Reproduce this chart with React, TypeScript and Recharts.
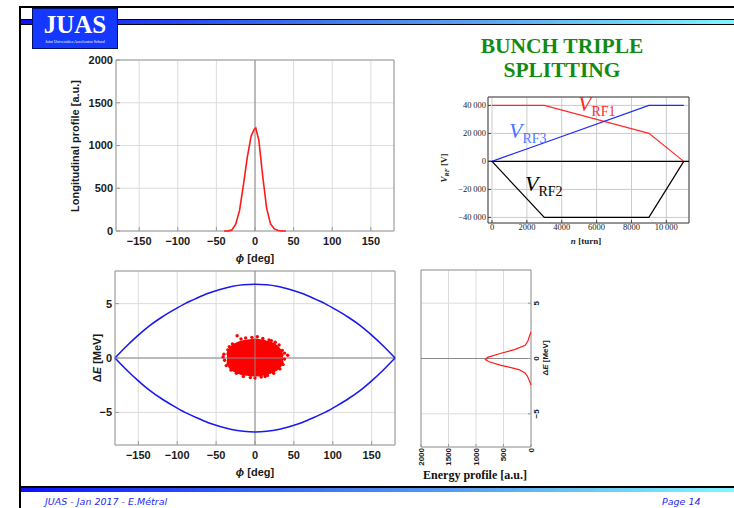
import React from 'react'
import {
  ComposedChart, LineChart, Line, Area, Scatter, XAxis, YAxis, CartesianGrid,
  ReferenceLine, ReferenceArea,
} from 'recharts'

// longitudinal (phase) profile of the bunch
const profPhi = [-40, -35, -30, -25, -20, -15, -10, -5, -1, 1, 5, 10, 15, 20, 25, 30, 35, 40]
const profVal = [0, 2, 12, 80, 240, 540, 860, 1110, 1190, 1205, 1060, 640, 270, 85, 25, 6, 0, 0]

// RF voltage programme
const turns = [0, 3000, 9000, 11000]
const vrf1 = [40000, 40000, 20000, 0]
const vrf2 = [0, -40000, -40000, 0]
const vrf3 = [0, 13333, 40000, 40000]

// separatrix
const sepPhi = [-180, -165, -150, -135, -120, -105, -90, -75, -60, -45, -30, -15, 0, 15, 30, 45, 60, 75, 90, 105, 120, 135, 150, 165, 180]
const sepTop = [0, 1.1, 2.1, 3.0, 3.75, 4.4, 5.0, 5.5, 5.95, 6.3, 6.58, 6.74, 6.78, 6.74, 6.58, 6.3, 5.95, 5.5, 5.0, 4.4, 3.75, 3.0, 2.1, 1.1, 0]
const sepBot = [0, -1.1, -2.1, -3.0, -3.75, -4.4, -5.0, -5.5, -5.95, -6.3, -6.58, -6.74, -6.8, -6.74, -6.58, -6.3, -5.95, -5.5, -5.0, -4.4, -3.75, -3.0, -2.1, -1.1, 0]

// dense core of the particle cloud
const corePhi = [-36, -33, -30, -25, -20, -15, -10, -5, 0, 5, 10, 15, 20, 25, 30, 33, 36]
const coreTop = [0.3, 0.8, 1.05, 1.3, 1.45, 1.55, 1.6, 1.65, 1.7, 1.65, 1.6, 1.5, 1.4, 1.25, 0.95, 0.65, 0.2]
const coreBot = [-0.4, -0.8, -1.05, -1.25, -1.4, -1.5, -1.55, -1.6, -1.6, -1.6, -1.55, -1.45, -1.35, -1.2, -0.95, -0.7, -0.3]

// stray particles at the edge of the cloud
const partPhi = [-23, -12, -4, 3, 10, 18, 26, 31, -29, -35, -40, -39, -41, -37, -31, -24, -15, -6, 0, 8, 16, 24, 32, 36, 38, 42, 35, 38, -33, 21, -18, 13]
const partDE = [2.05, 1.85, 1.9, 1.95, 1.8, 1.65, 1.45, 1.2, 1.3, 0.75, 0.35, -0.2, 0.1, -0.7, -1.1, -1.4, -1.7, -1.8, -1.85, -1.75, -1.6, -1.4, -1.0, -0.6, -0.1, 0.25, 0.7, 0.45, 1.05, 1.6, 1.75, -1.7]

// energy profile
const enDE = [-2.4, -2.0, -1.6, -1.3, -1.0, -0.6, -0.3, -0.1, 0.1, 0.45, 0.8, 1.2, 1.6, 2.0, 2.4]
const enVal = [0, 30, 65, 110, 220, 560, 760, 830, 790, 560, 300, 105, 55, 30, 0]

const phiTicks = [-150, -100, -50, 0, 50, 100, 150]
const profTicks = [0, 500, 1000, 1500, 2000]
const turnTicks = [0, 2000, 4000, 6000, 8000, 10000]
const voltTicks = [-40000, -20000, 0, 20000, 40000]
const dETicks = [-5, 0, 5]

const minus = (v: number) => (v < 0 ? '\u2212' + Math.abs(v) : String(v))
const grouped = (v: number) => {
  const s = String(Math.abs(v))
  const g = s.length > 4 ? s.slice(0, s.length - 3) + '\u2009' + s.slice(-3) : s
  return (v < 0 ? '\u2212' : '') + g
}

const SANS = '"Liberation Sans", Arial, sans-serif'
const SERIF = '"Liberation Serif", "Times New Roman", serif'
const tickSans = { fontSize: 11, fontWeight: 700, fill: '#1a1a1a', fontFamily: SANS }
const tickSerif = { fontSize: 8.5, fill: '#222', fontFamily: SERIF }
const frameTick = { stroke: '#9a9a9a' }

const profData = profPhi.map((p, i) => ({ phi: p, val: profVal[i] }))
const rfData = turns.map((n, i) => ({ n, rf1: vrf1[i], rf2: vrf2[i], rf3: vrf3[i] }))
const partData = partPhi.map((p, i) => ({ phi: p, dE: partDE[i] }))
const enData = enDE.map((d, i) => ({ dE: d, val: enVal[i] }))

// phase space table: separatrix + cloud core on one phi grid
const phaseData = (() => {
  const rows: Record<number, any> = {}
  sepPhi.forEach((p, i) => { rows[p] = { ...(rows[p] || { phi: p }), top: sepTop[i], bot: sepBot[i] } })
  corePhi.forEach((p, i) => { rows[p] = { ...(rows[p] || { phi: p }), core: [coreBot[i], coreTop[i]] } })
  return Object.values(rows).sort((a: any, b: any) => a.phi - b.phi)
})()

const RotXTick = ({ x, y, payload }: any) => (
  <text x={x} y={y} transform={`rotate(-90 ${x} ${y})`} textAnchor="end" dy="0.35em"
    style={{ fontSize: 8, fontWeight: 700, fill: '#1a1a1a', fontFamily: SANS }}>{payload.value}</text>
)
const RotYTick = ({ x, y, payload }: any) => (
  <text x={x} y={y} transform={`rotate(-90 ${x} ${y})`} textAnchor="middle" dy="0.75em"
    style={{ fontSize: 8, fontWeight: 700, fill: '#1a1a1a', fontFamily: SANS }}>{minus(payload.value)}</text>
)

function Txt({ x, y, rot, style, children }: any) {
  return (
    <div style={{
      position: 'absolute', left: x, top: y, whiteSpace: 'nowrap', lineHeight: 1,
      transform: `translate(-50%, -50%)${rot ? ' rotate(-90deg)' : ''}`, ...style,
    }}>{children}</div>
  )
}

function VLabel({ x, y, sub, color }: any) {
  return (
    <div style={{ position: 'absolute', left: x, top: y, whiteSpace: 'nowrap', lineHeight: 1, color, fontFamily: SERIF }}>
      <span style={{ fontStyle: 'italic', fontSize: 22 }}>V</span>
      <span style={{ fontSize: 14, position: 'relative', top: 5 }}>{sub}</span>
    </div>
  )
}

const bar = 'linear-gradient(90deg, #0a10ff 0%, #2f5ef5 30%, #5aa6f0 65%, #80f6ff 100%)'

export default function App() {
  return (
    <div style={{ position: 'absolute', left: 0, top: 0, width: 734, height: 508, background: '#fff', overflow: 'hidden', fontFamily: SANS }}>
      {/* slide frame */}
      <div style={{ position: 'absolute', left: 19, top: 6, width: 715, height: 2, background: '#000' }} />
      <div style={{ position: 'absolute', left: 19, top: 6, width: 2, height: 502, background: '#000' }} />
      <div style={{ position: 'absolute', left: 21, top: 19, width: 713, height: 4, borderTop: '1px solid #000', borderBottom: '1px solid #000', background: bar }} />
      <div style={{ position: 'absolute', left: 21, top: 486, width: 713, height: 4, borderTop: '2px solid #000', background: bar }} />

      {/* logo */}
      <div style={{ position: 'absolute', left: 32, top: 8, width: 84, height: 39, background: '#1438ff', border: '1px solid #001060', color: '#fff', textAlign: 'center' }}>
        <div style={{ fontFamily: SERIF, fontWeight: 700, fontSize: 25, lineHeight: '28px', marginTop: 2 }}>JUAS</div>
        <div style={{ fontFamily: SERIF, fontSize: 4, lineHeight: '5px' }}>Joint Universities Accelerator School</div>
      </div>

      {/* title */}
      <div style={{ position: 'absolute', left: 462, top: 35, width: 200, textAlign: 'center', fontFamily: SERIF, fontWeight: 700, fontSize: 21.5, lineHeight: '23.5px', color: '#138a13' }}>
        BUNCH TRIPLE<br />SPLITTING
      </div>

      {/* longitudinal profile */}
      <div style={{ position: 'absolute', left: 40, top: 50 }}>
        <LineChart width={360} height={225} data={profData} margin={{ top: 10, right: 6, bottom: 0, left: 0 }}>
          <CartesianGrid stroke="#dcdcdc" />
          <XAxis dataKey="phi" type="number" domain={[-180, 180]} ticks={phiTicks} tickFormatter={minus}
            axisLine={false} tickLine={frameTick} tickSize={-4} tickMargin={10} height={44} tick={tickSans} interval={0} />
          <YAxis type="number" domain={[0, 2000]} ticks={profTicks} axisLine={false} tickLine={frameTick}
            tickSize={-4} tickMargin={7} width={76} tick={tickSans} interval={0} />
          <ReferenceLine x={0} stroke="#8a8a8a" />
          <ReferenceArea x1={-180} x2={180} y1={0} y2={2000} fill="none" stroke="#9a9a9a" />
          <Line dataKey="val" type="linear" stroke="#ff1a1a" strokeWidth={1.6} dot={false} isAnimationActive={false} />
        </LineChart>
      </div>

      {/* RF voltages */}
      <div style={{ position: 'absolute', left: 420, top: 90 }}>
        <LineChart width={290} height={160} data={rfData} margin={{ top: 7, right: 21, bottom: 0, left: 0 }}>
          <CartesianGrid stroke="#cacaca" />
          <XAxis dataKey="n" type="number" domain={[-230, 11300]} allowDataOverflow ticks={turnTicks} tickFormatter={grouped}
            axisLine={false} tickLine={{ stroke: '#444' }} tickSize={-3} tickMargin={4} height={27} tick={tickSerif} interval={0} />
          <YAxis type="number" domain={[-44000, 46000]} allowDataOverflow ticks={voltTicks} tickFormatter={grouped}
            axisLine={false} tickLine={{ stroke: '#444' }} tickSize={-3} tickMargin={5} width={68} tick={tickSerif} interval={0} />
          <ReferenceArea x1={-230} x2={11300} y1={-44000} y2={46000} fill="none" stroke="#444" />
          <ReferenceLine y={0} stroke="#000" strokeWidth={1.2} />
          <Line dataKey="rf1" type="linear" stroke="#ff2a2a" strokeWidth={1.2} dot={false} isAnimationActive={false} />
          <Line dataKey="rf3" type="linear" stroke="#1e2cf0" strokeWidth={1.2} dot={false} isAnimationActive={false} />
          <Line dataKey="rf2" type="linear" stroke="#000" strokeWidth={1.2} dot={false} isAnimationActive={false} />
        </LineChart>
      </div>

      {/* phase space */}
      <div style={{ position: 'absolute', left: 40, top: 262 }}>
        <ComposedChart width={360} height={225} data={phaseData} margin={{ top: 9, right: 5, bottom: 0, left: 0 }}>
          <CartesianGrid stroke="#dcdcdc" />
          <XAxis dataKey="phi" type="number" domain={[-180, 180]} ticks={phiTicks} tickFormatter={minus}
            axisLine={false} tickLine={frameTick} tickSize={-4} tickMargin={10} height={42} tick={tickSans} interval={0} />
          <YAxis type="number" domain={[-8, 8]} allowDataOverflow ticks={dETicks} tickFormatter={minus}
            axisLine={false} tickLine={frameTick} tickSize={-4} tickMargin={7} width={75} tick={tickSans} interval={0} />
          <ReferenceLine x={0} stroke="#8a8a8a" />
          <ReferenceLine y={0} stroke="#8a8a8a" />
          <ReferenceArea x1={-180} x2={180} y1={-8} y2={8} fill="none" stroke="#9a9a9a" />
          <Area dataKey="core" type="monotone" fill="#ff0000" fillOpacity={1} stroke="#ff0000" strokeWidth={2} isAnimationActive={false} />
          <Scatter data={partData} dataKey="dE" fill="#ff0000" isAnimationActive={false}
            shape={(p: any) => <circle cx={p.cx} cy={p.cy} r={1.7} fill="#ff0000" />} />
          <Line dataKey="top" type="monotone" stroke="#1a1aee" strokeWidth={1.6} dot={false} connectNulls isAnimationActive={false} />
          <Line dataKey="bot" type="monotone" stroke="#1a1aee" strokeWidth={1.6} dot={false} connectNulls isAnimationActive={false} />
        </ComposedChart>
      </div>

      {/* energy profile (rotated) */}
      <div style={{ position: 'absolute', left: 400, top: 262 }}>
        <LineChart width={160} height={225} data={enData} layout="vertical" margin={{ top: 8, right: 0, bottom: 0, left: 21 }}>
          <CartesianGrid stroke="#dcdcdc" />
          <XAxis type="number" domain={[0, 2000]} reversed ticks={profTicks} axisLine={false} tickLine={frameTick}
            tickSize={-3} tickMargin={4} height={40} tick={<RotXTick />} interval={0} />
          <YAxis dataKey="dE" type="number" orientation="right" domain={[-8, 8]} reversed allowDataOverflow ticks={dETicks}
            axisLine={false} tickLine={frameTick} tickSize={-3} tickMargin={5} width={29} tick={<RotYTick />} interval={0} />
          <ReferenceLine y={0} stroke="#8a8a8a" />
          <ReferenceArea x1={0} x2={2000} y1={-8} y2={8} fill="none" stroke="#9a9a9a" />
          <Line dataKey="val" type="linear" stroke="#ff1a1a" strokeWidth={1.2} dot={false} isAnimationActive={false} />
        </LineChart>
      </div>

      {/* axis titles */}
      <Txt x={75} y={146} rot style={{ fontSize: 11, fontWeight: 700, color: '#1a1a1a' }}>Longitudinal profile [a.u.]</Txt>
      <Txt x={255} y={258} style={{ fontSize: 11, fontWeight: 700, color: '#1a1a1a' }}><i>ϕ</i> [deg]</Txt>
      <Txt x={97} y={358} rot style={{ fontSize: 11, fontWeight: 700, color: '#1a1a1a' }}>Δ<i>E</i> [MeV]</Txt>
      <Txt x={255} y={472} style={{ fontSize: 11, fontWeight: 700, color: '#1a1a1a' }}><i>ϕ</i> [deg]</Txt>
      <Txt x={546} y={358} rot style={{ fontSize: 8, fontWeight: 700, color: '#1a1a1a' }}>Δ<i>E</i> [MeV]</Txt>
      <Txt x={475} y={475} style={{ fontFamily: SERIF, fontSize: 12, fontWeight: 700, color: '#111' }}>Energy profile [a.u.]</Txt>
      <Txt x={445} y={168} rot style={{ fontFamily: SERIF, fontSize: 9, fontWeight: 700, color: '#222' }}>
        <i>V</i><sub style={{ fontSize: 6, fontStyle: 'italic' }}>RF</sub> [V]
      </Txt>
      <Txt x={586} y={241} style={{ fontFamily: SERIF, fontSize: 9, fontWeight: 700, color: '#222' }}><i>n</i> [turn]</Txt>

      {/* curve labels */}
      <VLabel x={578} y={93} sub="RF1" color="#ff2a2a" />
      <VLabel x={509} y={120} sub="RF3" color="#4a78ff" />
      <VLabel x={525} y={173} sub="RF2" color="#000" />

      {/* footer */}
      <div style={{ position: 'absolute', left: 45, top: 496, fontSize: 9.5, fontStyle: 'italic', color: '#2a2af0', fontFamily: '"DejaVu Sans", sans-serif' }}>JUAS - Jan 2017 - E.Métral</div>
      <div style={{ position: 'absolute', left: 662, top: 496, fontSize: 9.5, fontStyle: 'italic', color: '#2a2af0', fontFamily: '"DejaVu Sans", sans-serif' }}>Page 14</div>
    </div>
  )
}
